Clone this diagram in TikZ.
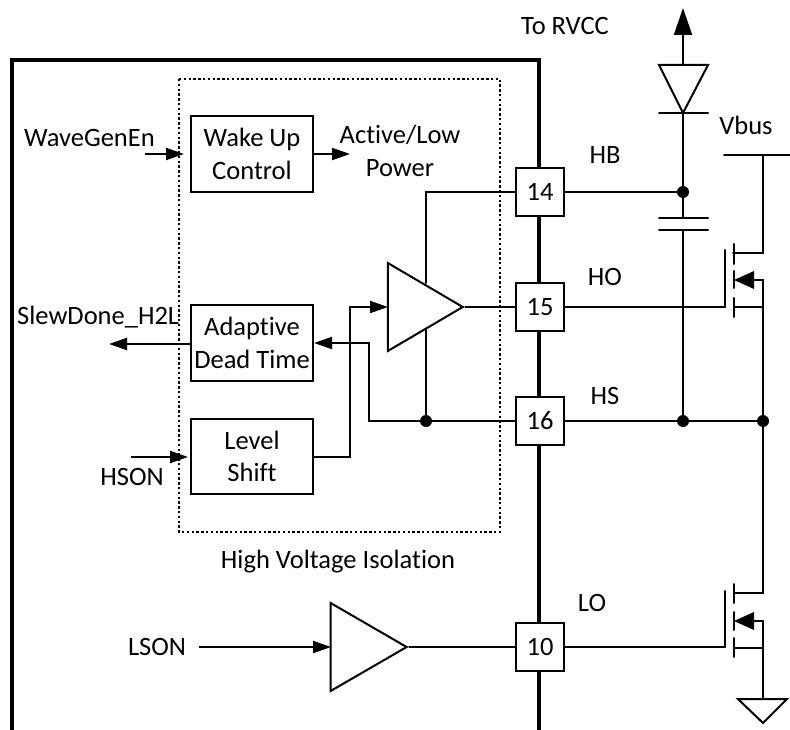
\documentclass[tikz,border=0pt]{standalone}
\usepackage{fontspec}
\setmainfont{Carlito}[RawFeature={-liga}]
\usetikzlibrary{arrows.meta,shapes.geometric,calc}
\tikzset{
  x=1pt,y=-1pt,
  every node/.style={font=\fontsize{26.5}{32.5}\selectfont},
  wire/.style={line width=2pt,line cap=round},
  heavy/.style={line width=3.6pt},
  arr/.style={wire,line cap=butt,-{Triangle[length=18pt,width=12pt]}},
  block/.style={draw,line width=2pt,fill=white,align=center,inner sep=0pt},
  pin/.style={draw,line width=2pt,fill=white,minimum width=48pt,minimum height=48pt,inner sep=0pt},
  dotn/.style={circle,fill=black,inner sep=0pt,minimum size=12pt},
  lbl/.style={inner sep=0pt,align=center},
}
\begin{document}
\begin{tikzpicture}
\useasboundingbox (0,0) rectangle (790,730);
% outer package
\coordinate (pkgBL) at (12,730);
\coordinate (pkgTL) at (12,60);
\coordinate (pkgTR) at (539,60);
\coordinate (pkgBR) at (539,730);
\draw[heavy,line join=miter] (pkgBL) -- (pkgTL) -- (pkgTR) -- (pkgBR);
% isolation region
\draw[line width=1.3pt,dash pattern=on 2.4pt off 2.4pt] (179,79) rectangle (500,532);
% blocks
\node[block,minimum width=122pt,minimum height=76pt] (wake) at (252,154) {Wake Up\\Control};
\node[block,minimum width=122pt,minimum height=76pt] (adapt) at (252,343) {Adaptive\\Dead Time};
\node[block,minimum width=122pt,minimum height=75pt] (shift) at (252,456.5) {Level\\Shift};
% pins
\node[pin] (p14) at (540,192) {14};
\node[pin] (p15) at (540,307) {15};
\node[pin] (p16) at (540,421) {16};
\node[pin] (p10) at (540,647) {10};
% amplifiers
\coordinate (ampAtop) at (426,283);
\coordinate (ampAbot) at (426,329);
\coordinate (ampAin) at (388,307);
\coordinate (ampBin) at (331,647);
\node[draw,line width=2pt,fill=white,isosceles triangle,isosceles triangle stretches,minimum height=75pt,minimum width=88pt,inner sep=0pt,anchor=center] (ampA) at (413,307) {};
\node[draw,line width=2pt,fill=white,isosceles triangle,isosceles triangle stretches,minimum height=76pt,minimum width=88pt,inner sep=0pt,anchor=center] (ampB) at (356,647) {};
% junctions
\node[dotn] (jA) at (426,421) {};
\node[dotn] (jHB) at (683,192) {};
\node[dotn] (jHS) at (683,421) {};
\node[dotn] (jSW) at (763,421) {};
% signal coordinates
\coordinate (waveIn) at (145,154);
\coordinate (waveEnd) at (184,154);
\coordinate (slewEnd) at (109,344);
\coordinate (hsonIn) at (131,457);
\coordinate (hsonEnd) at (188,457);
\coordinate (lsonIn) at (199,647);
\coordinate (activeEnd) at (350,154);
% left side
\draw[arr] (waveIn) -- (waveEnd);
\draw[arr] (adapt.west |- slewEnd) -- (slewEnd);
\draw[arr] (hsonIn) -- (hsonEnd);
\draw[arr] (lsonIn) -- (ampBin);
\draw[arr] (wake.east) -- (activeEnd);
% inner wiring
\draw[wire] (p14.west) -| (ampAtop);
\draw[wire] (ampAbot) -- (jA);
\draw[wire] (p16.west) -- (jA);
\draw[arr] (jA) -- (369,421) -- (369,343) -- (adapt.east);
\draw[arr] (shift.east |- hsonIn) -- (350,457) -- (350,307) -- (ampAin);
\draw[wire] (ampA.apex) -- (p15.west);
\draw[wire] (ampB.apex) -- (p10.west);
% bootstrap
\coordinate (rvcc) at (683,8);
\coordinate (dA) at (683,65);
\coordinate (dK) at (683,113);
\coordinate (capT) at (683,218);
\coordinate (capB) at (683,230);
\draw[wire,line cap=butt,-{Triangle[length=27pt,width=18pt]}] (dA) -- (rvcc);
\draw[wire,line join=miter] (659,65) -- (708,65) -- (dK) -- cycle;
\draw[wire] (659,113) -- (708,113);
\draw[wire] (dK) -- (jHB);
\draw[wire] (jHB) -- (capT);
\draw[wire] (659,218) -- (708,218);
\draw[wire] (659,230) -- (708,230);
\draw[wire] (capB) -- (jHS);
\draw[wire] (p14.east) -- (jHB);
\draw[wire] (p16.east) -- (jHS) -- (jSW);
% high side FET
\coordinate (vbL) at (724,155);
\coordinate (vbR) at (790,155);
\coordinate (vbT) at (763,155);
\draw[wire] (vbL) -- (vbR);
\draw[wire] (vbT) -- (763,253) -- (733,253);
\draw[wire] (725,250) -- (725,307);
\draw[wire] (p15.east) -- (725,307);
\draw[wire] (734,244) -- (734,264);
\draw[wire] (734,271) -- (734,288);
\draw[wire] (734,298) -- (734,317);
\draw[wire] (734,307) -- (763,307);
\draw[wire] (754,280) -- (763,280) -- (jSW);
\fill (734,280) -- (754,271) -- (754,289) -- cycle;
% low side FET
\draw[wire] (jSW) -- (763,593) -- (734,593);
\draw[wire] (725,591) -- (725,647);
\draw[wire] (p10.east) -- (725,647);
\draw[wire] (734,584) -- (734,603);
\draw[wire] (734,612) -- (734,630);
\draw[wire] (734,638) -- (734,657);
\draw[wire] (734,648) -- (763,648);
\draw[wire] (754,621) -- (763,621) -- (763,699);
\fill (734,621) -- (754,612) -- (754,630) -- cycle;
\draw[wire,line join=miter] (738,699) -- (787,699) -- (763,723) -- cycle;
% labels
\node[lbl] (tRVCC) at (565,26) {To RVCC};
\node[lbl] (tVbus) at (746,125) {Vbus};
\node[lbl] (tHB) at (605,155) {HB};
\node[lbl] (tHO) at (605,277) {HO};
\node[lbl] (tHS) at (605,396) {HS};
\node[lbl] (tLO) at (592,603) {LO};
\node[lbl] (tAct) at (400,151) {Active/Low\\Power};
\node[lbl,anchor=west] (tWave) at (24,138) {WaveGenEn};
\node[lbl,anchor=west] (tSlew) at (17,317) {SlewDone\_H2L};
\node[lbl] (tHSON) at (132,477) {HSON};
\node[lbl] (tLSON) at (157,647) {LSON};
\node[lbl] (tHVI) at (338,562) {High Voltage Isolation};
\end{tikzpicture}
\end{document}
